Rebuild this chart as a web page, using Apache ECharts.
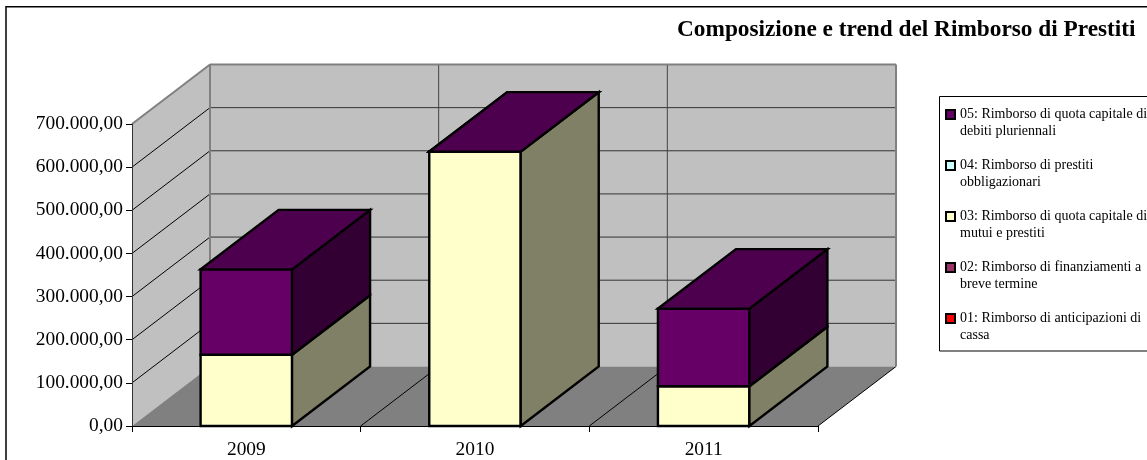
<!DOCTYPE html>
<html>
<head>
<meta charset="utf-8">
<title>Rimborso di Prestiti</title>
<script src="https://cdn.jsdelivr.net/npm/echarts@6/dist/echarts.min.js"></script>
<style>
    html, body { margin: 0; padding: 0; background: #fff; overflow: hidden; }
    #main { width: 1147px; height: 460px; }
</style>
</head>
<body>
<div id="main"></div>
<script>
var years = ['2009', '2010', '2011'];

var s01 = [0, 0, 0];
var s02 = [0, 0, 0];
var s03 = [165000, 636000, 92000];
var s04 = [0, 0, 0];
var s05 = [198000, 0, 180000];

var n01 = '01: Rimborso di anticipazioni di\ncassa';
var n02 = '02: Rimborso di finanziamenti a\nbreve termine';
var n03 = '03: Rimborso di quota capitale di\nmutui e prestiti';
var n04 = '04: Rimborso di prestiti\nobbligazionari';
var n05 = '05: Rimborso di quota capitale di\ndebiti pluriennali';

var yTicks = [0, 100000, 200000, 300000, 400000, 500000, 600000, 700000];

// profondita' della finta prospettiva 3D
var DX = 78, DY = -59.5;
var BAR_LW = 2.4;
var FONT = '"Liberation Serif", "Times New Roman", serif';

function fmtIt(v) {
    return v.toFixed(2).replace('.', ',').replace(/\B(?=(\d{3})+(?!\d))/g, '.');
}

function shade(hex, k) {
    var n = parseInt(hex.slice(1), 16);
    var r = Math.round((n >> 16 & 255) * k), g = Math.round((n >> 8 & 255) * k), b = Math.round((n & 255) * k);
    return 'rgb(' + r + ',' + g + ',' + b + ')';
}

function poly(points, fill, stroke, lw) {
    return { type: 'polygon', shape: { points: points }, style: { fill: fill, stroke: stroke || null, lineWidth: lw || 0 } };
}
function seg(x1, y1, x2, y2, stroke, lw) {
    return { type: 'line', shape: { x1: x1, y1: y1, x2: x2, y2: y2 }, style: { stroke: stroke, lineWidth: lw } };
}

// pareti, pavimento e griglia
function renderWalls(params, api) {
    var bw = api.size([1, 0])[0];
    var x0 = api.coord([0, 0])[0] - bw / 2;
    var x1 = x0 + bw * years.length;
    var yb = api.coord([0, 0])[1];
    var yt = api.coord([0, yTicks[yTicks.length - 1]])[1];
    var c = [];
    c.push(poly([[x0, yb], [x0 + DX, yb + DY], [x0 + DX, yt + DY], [x0, yt]], '#c0c0c0'));
    c.push(poly([[x0 + DX, yb + DY], [x1 + DX, yb + DY], [x1 + DX, yt + DY], [x0 + DX, yt + DY]], '#c0c0c0'));
    c.push(poly([[x0, yb], [x1, yb], [x1 + DX, yb + DY], [x0 + DX, yb + DY]], '#808080'));
    for (var i = 1; i < yTicks.length - 1; i++) {
        var y = api.coord([0, yTicks[i]])[1];
        c.push(seg(x0, y, x0 + DX, y + DY, '#000', 1));
        c.push(seg(x0 + DX, y + DY, x1 + DX, y + DY, '#333', 1));
    }
    for (var k = 1; k <= years.length; k++) {
        var x = x0 + bw * k;
        c.push(seg(x, yb, x + DX, yb + DY, '#000', 1));
        if (k < years.length) c.push(seg(x + DX, yb + DY, x + DX, yt + DY, '#444', 1));
    }
    c.push(seg(x0, yt, x0 + DX, yt + DY, '#808080', 2));
    c.push(seg(x0 + DX, yt + DY, x1 + DX, yt + DY, '#808080', 2));
    c.push(seg(x1 + DX, yt + DY, x1 + DX, yb + DY, '#808080', 2));
    c.push(seg(x0 + DX, yt + DY, x0 + DX, yb + DY, '#808080', 2));
    return { type: 'group', children: c };
}

var stackOrder = [s01, s02, s03, s04, s05];

function makeRender(idx, color) {
    return function (params, api) {
        var cat = api.value(0), val = api.value(1);
        var base = 0;
        for (var i = 0; i < idx; i++) base += stackOrder[i][cat];
        var total = 0;
        for (var j = 0; j < stackOrder.length; j++) total += stackOrder[j][cat];
        var isTop = base + val === total;
        if (val === 0 && !isTop) return null;
        // la faccia superiore va alla serie piu' alta del mucchio
        if (val === 0 && idx !== stackOrder.length - 1) return null;
        var w = api.size([1, 0])[0] * 0.4;
        var cx = api.coord([cat, 0])[0];
        var yLow = api.coord([cat, base])[1], yHigh = api.coord([cat, base + val])[1];
        var l = cx - w / 2, r = cx + w / 2;
        var c = [];
        if (val > 0) {
            c.push(poly([[l, yLow], [r, yLow], [r, yHigh], [l, yHigh]], color, '#000', BAR_LW));
            c.push(poly([[r, yLow], [r + DX, yLow + DY], [r + DX, yHigh + DY], [r, yHigh]], shade(color, 0.5), '#000', BAR_LW));
        }
        if (isTop) {
            c.push(poly([[l, yHigh], [r, yHigh], [r + DX, yHigh + DY], [l + DX, yHigh + DY]], shade(color, 0.75), '#000', BAR_LW));
        }
        return { type: 'group', children: c };
    };
}

function customSeries(name, values, idx, color) {
    return {
        name: name,
        type: 'custom',
        coordinateSystem: 'cartesian2d',
        itemStyle: { color: color, borderColor: '#000', borderWidth: 2 },
        encode: { x: 0, y: 1 },
        renderItem: makeRender(idx, color),
        z: 3,
        data: values.map(function (v, i) { return [i, v]; })
    };
}

var chart = echarts.init(document.getElementById('main'));
chart.setOption({
    animation: false,
    backgroundColor: '#fff',
    textStyle: { fontFamily: FONT },
    title: {
        text: 'Composizione e trend del Rimborso di Prestiti',
        left: 677,
        top: 18,
        padding: 0,
        textStyle: { fontFamily: FONT, fontSize: 23.3, fontWeight: 'bold', color: '#000' }
    },
    grid: { left: 132, right: 329, top: 124, bottom: 34 },
    xAxis: {
        type: 'category',
        data: years,
        axisLine: { lineStyle: { color: '#000', width: 1 } },
        axisTick: { show: true, length: 6, alignWithLabel: false, lineStyle: { color: '#000' } },
        axisLabel: { color: '#000', fontFamily: FONT, fontSize: 19.4, margin: 14 },
        z: 5
    },
    yAxis: {
        type: 'value',
        min: 0,
        max: 700000,
        interval: 100000,
        axisLine: { show: true, lineStyle: { color: '#333', width: 1 } },
        axisTick: { show: true, length: 6, lineStyle: { color: '#000' } },
        axisLabel: { color: '#000', fontFamily: FONT, fontSize: 19.4, margin: 9, formatter: fmtIt },
        splitLine: { show: false },
        z: 5
    },
    legend: {
        orient: 'vertical',
        left: 945,
        top: 89,
        itemGap: 0,
        itemWidth: 9,
        itemHeight: 9,
        padding: 0,
        icon: 'rect',
        selectedMode: false,
        data: [n05, n04, n03, n02, n01],
        formatter: function (name) { return '\n' + name; },
        textStyle: { fontFamily: FONT, fontSize: 14, lineHeight: 17, color: '#000' }
    },
    graphic: [
        { type: 'rect', z: -1, silent: true, shape: { x: 6, y: 6.8, width: 1200, height: 600 }, style: { fill: 'none', stroke: '#000', lineWidth: 1.5 } },
        { type: 'rect', z: -1, silent: true, shape: { x: 939.5, y: 96.5, width: 300, height: 254.5 }, style: { fill: 'none', stroke: '#000', lineWidth: 1 } }
    ],
    series: [
        { name: 'pareti', type: 'custom', coordinateSystem: 'cartesian2d', renderItem: renderWalls, silent: true, z: 1, encode: { x: 0, y: 1 }, data: [[0, 0]] },
        customSeries(n01, s01, 0, '#ff0000'),
        customSeries(n02, s02, 1, '#993366'),
        customSeries(n03, s03, 2, '#ffffcc'),
        customSeries(n04, s04, 3, '#ccffff'),
        customSeries(n05, s05, 4, '#660066')
    ]
});
</script>
</body>
</html>
